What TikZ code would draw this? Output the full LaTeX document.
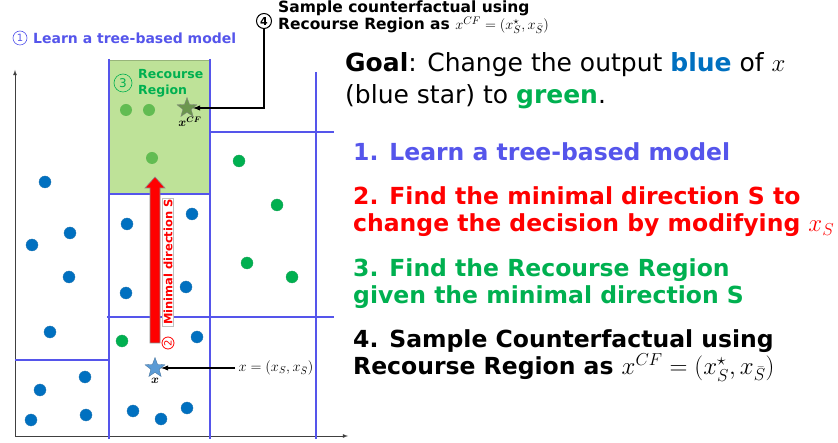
\documentclass[tikz,border=0pt]{standalone}
\usepackage{fontspec}
\setmainfont{DejaVu Sans}
\usetikzlibrary{shapes.geometric}

\definecolor{splitblue}{RGB}{85,85,235}
\definecolor{dotblue}{RGB}{0,112,192}
\definecolor{ptgreen}{RGB}{0,176,80}
\definecolor{softgreen}{RGB}{98,188,82}
\definecolor{regiongreen}{RGB}{190,226,152}
\definecolor{starblue}{RGB}{91,155,213}
\definecolor{stargreen}{RGB}{108,150,78}

\tikzstyle{bluedot} = [circle, fill=dotblue, draw=dotblue!75!gray, line width=.3pt, inner sep=0pt, minimum size=12pt]
\tikzstyle{greendot} = [circle, fill=ptgreen, draw=ptgreen!75!gray, line width=.3pt, inner sep=0pt, minimum size=12pt]
\tikzstyle{softdot} = [circle, fill=softgreen, inner sep=0pt, minimum size=12pt]
\tikzstyle{split} = [draw=splitblue, line width=2pt]
\tikzstyle{axisline} = [->, >=latex, draw=black!75, line width=.8pt]
\tikzstyle{pointer} = [->, >=latex, line width=1.4pt]
\tikzstyle{numcirc} = [circle, draw, inner sep=0pt, minimum size=14pt, font=\fontsize{10}{10}\selectfont]
\tikzstyle{goaltext} = [anchor=base west, inner sep=0pt, font=\fontsize{25}{28}\selectfont]
\tikzstyle{steptext} = [anchor=base west, inner sep=0pt, font=\fontsize{23.5}{28}\selectfont\bfseries]

\begin{document}
\begin{tikzpicture}[x=1pt, y=-1pt]
      \useasboundingbox (0,0) rectangle (838,443);

      \fill[regiongreen, draw=regiongreen!80!black, line width=.4pt] (108,60) rectangle (210,194);

      \coordinate (o) at (15,436);
      \coordinate (ytop) at (15,70);
      \coordinate (xend) at (348,436);
      \draw[axisline] (o) -- (ytop);
      \draw[axisline] (o) -- (xend);

      \draw[split] (109,59) -- (109,439);
      \draw[split] (210,59) -- (210,439);
      \draw[split] (109,194) -- (210,194);
      \draw[split] (210,132) -- (334,132);
      \draw[split] (316,72) -- (316,439);
      \draw[split] (107,317) -- (334,317);
      \draw[split] (15,360) -- (109,360);

      \node[bluedot] (b1) at (45,182) {};
      \node[bluedot] (b2) at (70,233) {};
      \node[bluedot] (b3) at (32,245) {};
      \node[bluedot] (b4) at (69,277) {};
      \node[bluedot] (b5) at (50,332) {};
      \node[bluedot] (b6) at (85,377) {};
      \node[bluedot] (b7) at (40,390) {};
      \node[bluedot] (b8) at (31,420) {};
      \node[bluedot] (b9) at (86,415) {};
      \node[bluedot] (b10) at (127,224) {};
      \node[bluedot] (b11) at (192,214) {};
      \node[bluedot] (b12) at (126,293) {};
      \node[bluedot] (b13) at (186,287) {};
      \node[bluedot] (b14) at (197,337) {};
      \node[bluedot] (b15) at (133,411) {};
      \node[bluedot] (b16) at (161,419) {};
      \node[bluedot] (b17) at (187,408) {};

      \node[greendot] (g1) at (239,161) {};
      \node[greendot] (g2) at (277,205) {};
      \node[greendot] (g3) at (247,263) {};
      \node[greendot] (g4) at (292,277) {};
      \node[greendot] (g5) at (122,341) {};

      \node[softdot] (r1) at (126,110) {};
      \node[softdot] (r2) at (149,110) {};
      \node[softdot] (r3) at (152,158) {};

      \filldraw[fill=red, draw=black!45, line width=.6pt] (150,343) -- (150,188) -- (145,188) -- (155,177) -- (165,188) -- (160,188) -- (160,343) -- cycle;
      \node[rotate=90, fill=white, draw=black!25, line width=.3pt, inner sep=1pt, text=red, font=\fontsize{11.5}{12}\selectfont\bfseries] (mindir) at (168,262) {Minimal direction S};
      \node[numcirc, draw=red, text=red, minimum size=12pt, line width=.8pt, rotate=90] (n2) at (168,343) {2};

      \node[star, star points=5, star point ratio=2.4, fill=starblue, draw=starblue!70!black, line width=.3pt, inner sep=0pt, minimum size=21pt] (xs) at (155,368) {};
      \node[font=\fontsize{12}{12}\selectfont\boldmath, inner sep=0pt] (xlbl) at (155,381) {$x$};
      \node[anchor=west, font=\fontsize{14}{14}\selectfont] (xeq) at (235,368) {$x=(x_S,x_{\bar{S}})$};
      \draw[pointer] (xeq.west) -- (xs.east);

      \node[star, star points=5, star point ratio=2.4, fill=stargreen, draw=gray, line width=.3pt, inner sep=0pt, minimum size=21pt] (cf) at (187,108) {};
      \node[font=\fontsize{12}{12}\selectfont\boldmath, inner sep=0pt] (cflbl) at (190,122) {$x^{CF}$};

      \node[numcirc, draw=splitblue, text=splitblue, line width=.6pt] (n1) at (20,38) {1};
      \node[anchor=west, inner sep=0pt, text=splitblue, font=\fontsize{14}{14}\selectfont\bfseries] (learn) at (33,38) {Learn a tree-based model};

      \node[numcirc, draw=ptgreen, text=ptgreen, minimum size=18pt, line width=.6pt, font=\fontsize{12}{12}\selectfont] (n3) at (123,83) {3};
      \node[anchor=west, align=left, inner sep=0pt, text=ptgreen, font=\fontsize{12.5}{16}\selectfont\bfseries] (region) at (138,83) {Recourse\\Region};

      \node[numcirc, line width=1pt, minimum size=15pt, font=\fontsize{11}{11}\selectfont\bfseries] (n4) at (264,21) {4};
      \node[anchor=west, align=left, inner sep=0pt, font=\fontsize{15.5}{15}\selectfont\bfseries] (sample) at (278,17) {Sample counterfactual using\\Recourse Region as $x^{CF}=(x^{\star}_{S},x_{\bar{S}})$};
      \draw[pointer] (n4.south) |- (cf.east);

      \node[goaltext] (goal1) at (345,72) {\textbf{Goal}: Change the output \textcolor{dotblue}{\textbf{blue}} of $x$};
      \node[goaltext] (goal2) at (345,104) {(blue star) to \textcolor{ptgreen}{\textbf{green}}.};

      \node[steptext, text=splitblue] (s1) at (353,161) {1. Learn a tree-based model};
      \node[steptext, text=red] (s2a) at (353,205) {2. Find the minimal direction S to};
      \node[steptext, text=red] (s2b) at (353,232) {change the decision by modifying $x_S$};
      \node[steptext, text=ptgreen] (s3a) at (353,277) {3. Find the Recourse Region};
      \node[steptext, text=ptgreen] (s3b) at (353,304) {given the minimal direction S};
      \node[steptext] (s4a) at (353,348) {4. Sample Counterfactual using};
      \node[steptext] (s4b) at (353,375) {Recourse Region as $x^{CF}=(x^{\star}_{S},x_{\bar{S}})$};
\end{tikzpicture}
\end{document}
